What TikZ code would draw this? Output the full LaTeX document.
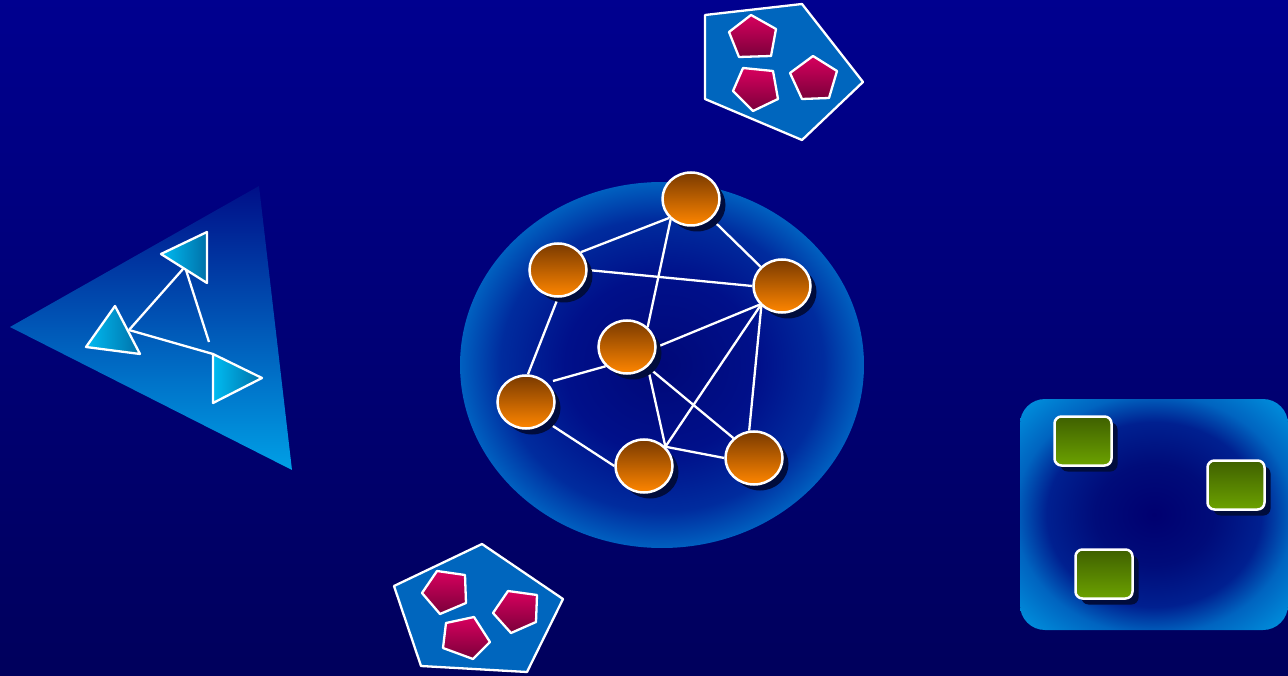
\documentclass[tikz,border=0pt]{standalone}
\usetikzlibrary{shapes.geometric,shadows}
\definecolor{bgtop}{HTML}{00008F}
\definecolor{bgbot}{HTML}{00005C}
\definecolor{tritop}{HTML}{000F88}
\definecolor{trimid}{HTML}{0035A2}
\definecolor{tribot}{HTML}{00A0E6}
\definecolor{cyanlt}{HTML}{00BCF2}
\definecolor{cyandk}{HTML}{0070A8}
\definecolor{pentblue}{HTML}{0066BE}
\definecolor{magtop}{HTML}{D8005E}
\definecolor{magbot}{HTML}{7A003A}
\definecolor{orgtop}{HTML}{7A3A00}
\definecolor{orgbot}{HTML}{FF8600}
\definecolor{grntop}{HTML}{3F6000}
\definecolor{grnbot}{HTML}{6CA200}
\definecolor{shadowc}{HTML}{000C3C}
\definecolor{e0}{HTML}{000878}
\definecolor{e1}{HTML}{00108A}
\definecolor{e2}{HTML}{002C9E}
\definecolor{e3}{HTML}{0060C0}
\definecolor{r0}{HTML}{000070}
\definecolor{r1}{HTML}{000C7A}
\definecolor{r2}{HTML}{002090}
\definecolor{r3}{HTML}{0064C0}
\definecolor{r4}{HTML}{0094E0}
\pgfdeclareradialshading{ellshade}{\pgfpoint{0bp}{0bp}}{color(0bp)=(e0); color(12bp)=(e1); color(20bp)=(e2); color(25bp)=(e3); color(50bp)=(e3)}
\pgfdeclareradialshading{recshade}{\pgfpoint{0bp}{0bp}}{color(0bp)=(r0); color(11bp)=(r1); color(20bp)=(r2); color(26bp)=(r3); color(35bp)=(r4); color(50bp)=(r4)}
\pgfdeclarelayer{back}
\pgfdeclarelayer{mid}
\pgfsetlayers{back,mid,main}
\begin{document}
\begin{tikzpicture}[x=1pt,y=-1pt,
  wline/.style={draw=white,line width=2.3pt},
  gnode/.style={ellipse,draw=white,line width=2.5pt,top color=orgtop,bottom color=orgbot,
    minimum width=57pt,minimum height=53pt,inner sep=0pt,
    drop shadow={shadow xshift=6pt,shadow yshift=-6pt,fill=shadowc,opacity=1}},
  gbox/.style={rectangle,rounded corners=7pt,draw=white,line width=2.5pt,top color=grntop,bottom color=grnbot,
    minimum width=57pt,minimum height=49pt,inner sep=0pt,
    drop shadow={shadow xshift=6pt,shadow yshift=-6pt,fill=shadowc,opacity=1}},
  bigpent/.style={fill=pentblue,draw=white,line width=2.3pt,line join=round},
  smallpent/.style={top color=magtop,bottom color=magbot,draw=white,line width=2.3pt,line join=round},
  smalltri/.style={left color=cyanlt,right color=cyandk,draw=white,line width=2.3pt,line join=round}]
\useasboundingbox (0,0) rectangle (1288,676);
\begin{pgfonlayer}{back}
\shade[top color=bgtop,bottom color=bgbot] (0,0) rectangle (1288,676);
% central disc
\shade[shading=ellshade] (662,365) ellipse [x radius=202pt,y radius=183pt];
% right rounded box
\shade[shading=recshade,rounded corners=25pt] (1020,399) rectangle (1288,630);
% left big triangle
\shade[top color=tritop,middle color=trimid,bottom color=tribot] (10,327) -- (259,186) -- (292,470) -- cycle;
\end{pgfonlayer}

% top pentagon group
\draw[bigpent] (705,15) -- (802,4) -- (863,82) -- (802,140) -- (705,99) -- cycle;
\shadedraw[smallpent] (729,32) -- (751,15) -- (776,29) -- (771,56) -- (739,57) -- cycle;
\shadedraw[smallpent] (733,91) -- (743,68) -- (773,71) -- (778,99) -- (753,111) -- cycle;
\shadedraw[smallpent] (790,73) -- (813,56) -- (837,71) -- (829,98) -- (802,99) -- cycle;

% bottom pentagon group
\draw[bigpent] (394,586) -- (482,544) -- (563,599) -- (527,672) -- (421,666) -- cycle;
\shadedraw[smallpent] (422,593) -- (437,571) -- (465,575) -- (466,603) -- (440,614) -- cycle;
\shadedraw[smallpent] (443,648) -- (446,623) -- (474,617) -- (490,642) -- (473,659) -- cycle;
\shadedraw[smallpent] (493,613) -- (508,591) -- (537,595) -- (536,622) -- (511,633) -- cycle;

% left triangle group
\coordinate (t1a) at (183,269);
\coordinate (t1b) at (186,270);
\coordinate (t2a) at (129,330);
\coordinate (t3a) at (213,354);
\coordinate (tfree) at (209,342);
\draw[wline] (t1a) -- (t2a);
\draw[wline] (t1b) -- (tfree);
\draw[wline] (t2a) -- (t3a);
\shadedraw[smalltri] (161,254) -- (207,232) -- (207,283) -- cycle;
\shadedraw[smalltri] (86,347) -- (115,306) -- (140,354) -- cycle;
\shadedraw[smalltri] (213,354) -- (262,378) -- (213,403) -- cycle;

% network
\node[gnode] (A) at (691,199) {};
\node[gnode] (B) at (558,270) {};
\node[gnode] (C) at (782,286) {};
\node[gnode] (D) at (627,347) {};
\node[gnode] (E) at (526,402) {};
\node[gnode] (F) at (644,466) {};
\node[gnode] (G) at (754,458) {};
\coordinate (ed) at (553,381);
\begin{pgfonlayer}{mid}
\draw[wline] (B.38) -- (A.221);
\draw[wline] (A.316) -- (C.138);
\draw[wline] (B.0) -- (C.180);
\draw[wline] (A.225) -- (D.44);
\draw[wline] (B.270) -- (E.86);
\draw[wline] (D.0) -- (C.220);
\draw[wline] (ed) -- (D.222);
\draw[wline] (E.316) -- (F.180);
\draw[wline] (D.316) -- (F.42);
\draw[wline] (D.316) -- (G.136);
\draw[wline] (C.222) -- (F.42);
\draw[wline] (C.224) -- (G.100);
\draw[wline] (F.42) -- (G.180);
\end{pgfonlayer}

% green boxes
\node[gbox] (S1) at (1083,441) {};
\node[gbox] (S2) at (1236,485) {};
\node[gbox] (S3) at (1104,574) {};
\end{tikzpicture}
\end{document}
